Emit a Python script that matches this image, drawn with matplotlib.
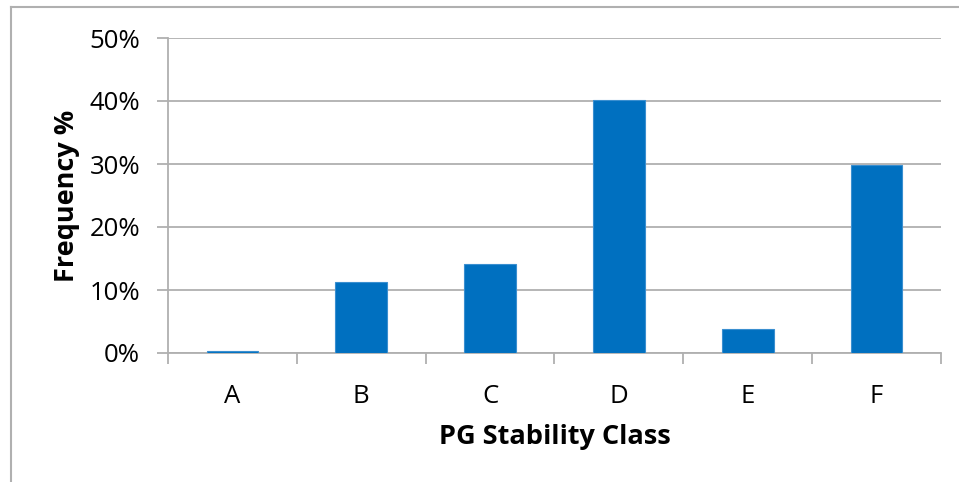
import matplotlib.pyplot as plt
from matplotlib.ticker import PercentFormatter

plt.rcParams['font.family'] = ['Open Sans', 'DejaVu Sans']

# data
classes = ['A', 'B', 'C', 'D', 'E', 'F']
freq = [0.3, 11.2, 14.1, 40.2, 3.8, 29.8]

grey = '#b0b0b0'

fig = plt.figure(figsize=(9.59, 4.82), dpi=100)
ax = fig.add_axes([168 / 959, 1 - 353 / 482, (941 - 168) / 959, (353 - 38) / 482])

x = range(len(classes))
ax.bar(x, freq, width=0.4, color='#0070c0', edgecolor='#3a8fd0', linewidth=0.8, zorder=3)

ax.set_xlim(-0.5, len(classes) - 0.5)
ax.set_ylim(0, 50)
ax.set_yticks(range(0, 51, 10))
ax.yaxis.set_major_formatter(PercentFormatter(decimals=0))
ax.set_xticks(list(x))
ax.set_xticklabels(classes)
ax.set_xticks([i + 0.5 for i in range(-1, len(classes))], minor=True)

ax.grid(axis='y', color=grey, linewidth=1.3, zorder=0)
for s in ['top', 'right']:
    ax.spines[s].set_visible(False)
for s in ['left', 'bottom']:
    ax.spines[s].set_color(grey)
    ax.spines[s].set_linewidth(1.3)

ax.tick_params(axis='y', length=8, width=1.3, color=grey, labelsize=18.5, pad=12)
ax.tick_params(axis='x', which='major', length=0, labelsize=18.5, pad=22)
ax.tick_params(axis='x', which='minor', length=8, width=1.3, color=grey)

ax.set_xlabel('PG Stability Class', fontsize=19.5, fontweight='bold', labelpad=11)
ax.set_ylabel('Frequency %', fontsize=19.5, fontweight='bold', labelpad=7)

# outer frame lines (top and left)
fig.add_artist(plt.Line2D([11 / 959, 11 / 959], [0, 1 - 7 / 482], color=grey, linewidth=1.5))
fig.add_artist(plt.Line2D([11 / 959, 1], [1 - 7 / 482, 1 - 7 / 482], color=grey, linewidth=1.5))

fig.savefig('out.png', dpi=100)
